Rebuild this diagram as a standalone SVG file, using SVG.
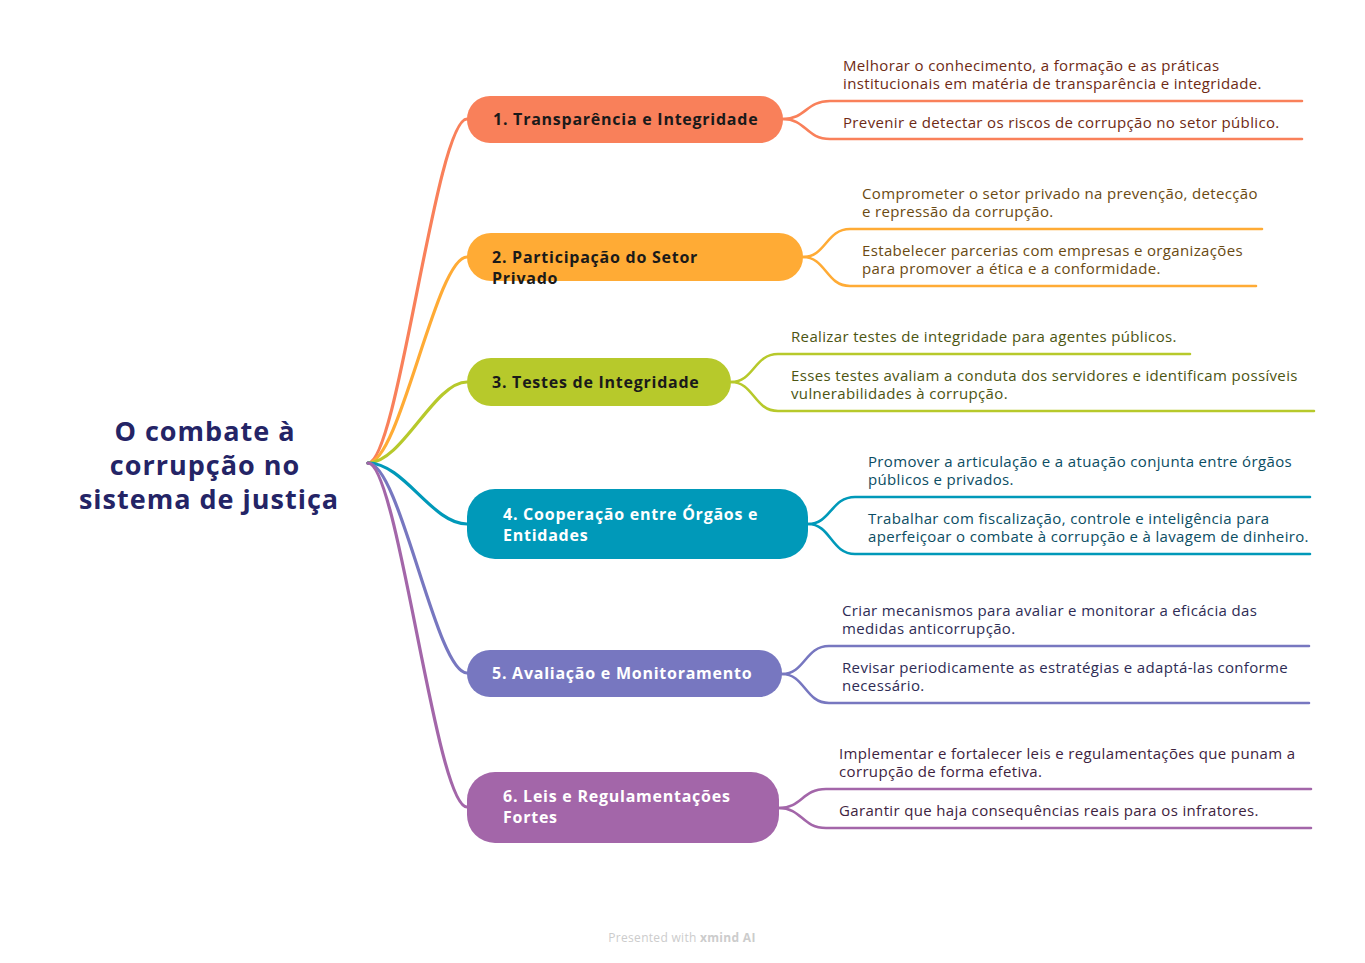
<svg xmlns="http://www.w3.org/2000/svg" width="1365" height="963" viewBox="0 0 1365 963">
<style>
.br{fill:none;stroke-width:3.2;stroke-linecap:round}
.sb{fill:none;stroke-width:2.6;stroke-linecap:round}
.nt{font-family:"Open Sans","Liberation Sans",sans-serif;font-weight:bold;font-size:16px;letter-spacing:0.75px}
.st{font-family:"Open Sans","Liberation Sans",sans-serif;font-size:15px;letter-spacing:0.35px}
.root{font-family:"Open Sans","Liberation Sans",sans-serif;font-weight:bold;font-size:27px;letter-spacing:1px;fill:#242466;text-anchor:middle}
.c1{stroke:#F9805A}.c2{stroke:#FFAB35}.c3{stroke:#B7C92B}.c4{stroke:#0099B9}.c5{stroke:#7777C0}.c6{stroke:#A366A9}
</style>
<rect width="1365" height="963" fill="#FFFFFF"/>
<g id="connectors">
<path class="br c1" d="M368,463 C398,463 436,119 467,119"/>
<path class="br c2" d="M368,463 C400,463 436,257 467,257"/>
<path class="br c3" d="M368,463 C402,463 434,382 467,382"/>
<path class="br c4" d="M368,463 C404,463 432,524 467,524"/>
<path class="br c5" d="M368,463 C400,463 436,673 467,673"/>
<path class="br c6" d="M368,463 C398,463 436,807 467,807"/>
<path class="sb c1" d="M783,119 C806,119 806,101 830,101 L1302,101"/>
<path class="sb c1" d="M783,119 C806,119 806,139 830,139 L1302,139"/>
<path class="sb c2" d="M803,257 C826,257 826,229 850,229 L1262,229"/>
<path class="sb c2" d="M803,257 C826,257 826,286 850,286 L1256,286"/>
<path class="sb c3" d="M731,382 C754,382 754,354 778,354 L1190,354"/>
<path class="sb c3" d="M731,382 C754,382 754,411 778,411 L1314,411"/>
<path class="sb c4" d="M808,524 C831,524 831,497 855,497 L1310,497"/>
<path class="sb c4" d="M808,524 C831,524 831,554 855,554 L1310,554"/>
<path class="sb c5" d="M782,674 C805,674 805,646 829,646 L1309,646"/>
<path class="sb c5" d="M782,674 C805,674 805,703 829,703 L1309,703"/>
<path class="sb c6" d="M779,808 C802,808 802,789 826,789 L1311,789"/>
<path class="sb c6" d="M779,808 C802,808 802,828 826,828 L1311,828"/>
</g>
<g id="root">
<text class="root" x="205" y="441">O combate à</text>
<text class="root" x="205" y="475">corrupção no</text>
<text class="root" x="209" y="509">sistema de justiça</text>
</g>
<g id="node1">
<rect x="467" y="96" width="316" height="47" rx="23" fill="#F9805A"/>
<text class="nt" x="493" y="125" fill="#1A1A1A">1. Transparência e Integridade</text>
</g>
<g id="node2">
<rect x="467" y="233" width="336" height="48" rx="24" fill="#FFAB35"/>
<text class="nt" x="492" y="263" fill="#1A1A1A">2. Participação do Setor</text>
<text class="nt" x="492" y="284" fill="#1A1A1A">Privado</text>
</g>
<g id="node3">
<rect x="467" y="358" width="264" height="48" rx="24" fill="#B7C92B"/>
<text class="nt" x="492" y="388" fill="#1A1A1A">3. Testes de Integridade</text>
</g>
<g id="node4">
<rect x="467" y="489" width="341" height="70" rx="28" fill="#0099B9"/>
<text class="nt" x="503" y="520" fill="#FFFFFF">4. Cooperação entre Órgãos e</text>
<text class="nt" x="503" y="541" fill="#FFFFFF">Entidades</text>
</g>
<g id="node5">
<rect x="467" y="650" width="315" height="47" rx="23" fill="#7777C0"/>
<text class="nt" x="492" y="679" fill="#FFFFFF">5. Avaliação e Monitoramento</text>
</g>
<g id="node6">
<rect x="467" y="772" width="312" height="71" rx="28" fill="#A366A9"/>
<text class="nt" x="503" y="802" fill="#FFFFFF">6. Leis e Regulamentações</text>
<text class="nt" x="503" y="823" fill="#FFFFFF">Fortes</text>
</g>
<g id="sub1" class="st" fill="#6E2A14">
<text x="843" y="71">Melhorar o conhecimento, a formação e as práticas</text>
<text x="843" y="89">institucionais em matéria de transparência e integridade.</text>
<text x="843" y="128">Prevenir e detectar os riscos de corrupção no setor público.</text>
</g>
<g id="sub2" class="st" fill="#6A4A12">
<text x="862" y="199">Comprometer o setor privado na prevenção, detecção</text>
<text x="862" y="217">e repressão da corrupção.</text>
<text x="862" y="256">Estabelecer parcerias com empresas e organizações</text>
<text x="862" y="274">para promover a ética e a conformidade.</text>
</g>
<g id="sub3" class="st" fill="#4C5512">
<text x="791" y="342">Realizar testes de integridade para agentes públicos.</text>
<text x="791" y="381">Esses testes avaliam a conduta dos servidores e identificam possíveis</text>
<text x="791" y="399">vulnerabilidades à corrupção.</text>
</g>
<g id="sub4" class="st" fill="#0B4D63">
<text x="868" y="467">Promover a articulação e a atuação conjunta entre órgãos</text>
<text x="868" y="485">públicos e privados.</text>
<text x="868" y="524">Trabalhar com fiscalização, controle e inteligência para</text>
<text x="868" y="542">aperfeiçoar o combate à corrupção e à lavagem de dinheiro.</text>
</g>
<g id="sub5" class="st" fill="#2E2C55">
<text x="842" y="616">Criar mecanismos para avaliar e monitorar a eficácia das</text>
<text x="842" y="634">medidas anticorrupção.</text>
<text x="842" y="673">Revisar periodicamente as estratégias e adaptá-las conforme</text>
<text x="842" y="691">necessário.</text>
</g>
<g id="sub6" class="st" fill="#3E2340">
<text x="839" y="759">Implementar e fortalecer leis e regulamentações que punam a</text>
<text x="839" y="777">corrupção de forma efetiva.</text>
<text x="839" y="816">Garantir que haja consequências reais para os infratores.</text>
</g>
<g id="footer">
<text x="682" y="942" text-anchor="middle" font-family="Open Sans, Liberation Sans, sans-serif" font-size="12" letter-spacing="0.3" fill="#CCCCCC">Presented with <tspan font-weight="bold">xmind AI</tspan></text>
</g>
</svg>
